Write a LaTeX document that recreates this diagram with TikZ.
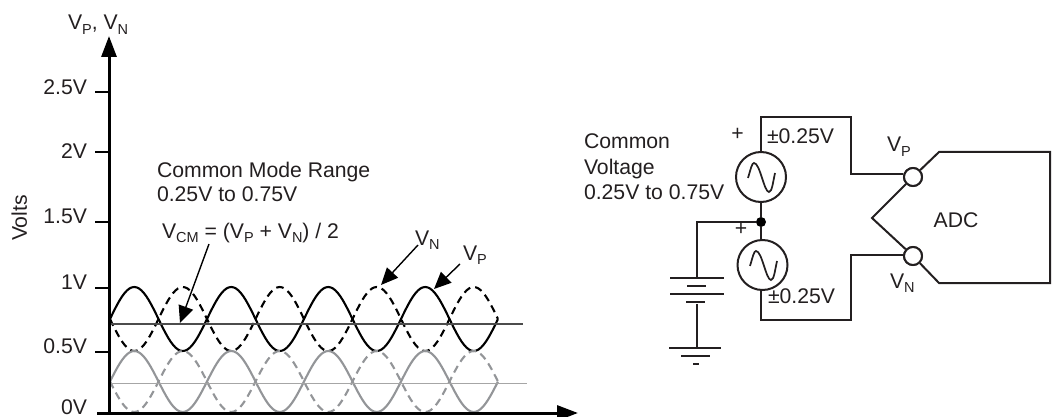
\documentclass[tikz,border=0pt]{standalone}
\usepackage{fontspec}
\setmainfont{Liberation Sans}
\usetikzlibrary{arrows.meta}
\definecolor{ink}{HTML}{231F20}
\definecolor{wavegrey}{HTML}{939598}
\newcommand{\sbs}[1]{\raisebox{-0.22em}{\fontsize{14.5}{15}\selectfont #1}}
\newcommand{\VP}{V\sbs{P}}
\newcommand{\VN}{V\sbs{N}}
\tikzset{
  txt/.style={anchor=base west,inner sep=0pt,outer sep=0pt,text=ink,font=\fontsize{21.2}{25}\selectfont},
  tick label/.style={anchor=base east,inner sep=0pt,outer sep=0pt,text=ink,font=\fontsize{21.2}{25}\selectfont},
  axisline/.style={line width=3pt,draw=black},
  tickline/.style={line width=2pt,draw=black},
  wire/.style={line width=2pt,draw=ink},
  call/.style={line width=1.4pt,draw=black,-{Triangle[length=17pt,width=15pt]}},
  wave/.style={line width=2.1pt},
  dashwave/.style={line width=2.1pt,dash pattern=on 7.5pt off 5pt},
  source/.style={circle,draw=ink,line width=2pt,minimum size=50pt,inner sep=0pt,fill=white},
  port/.style={circle,draw=ink,line width=2pt,minimum size=18pt,inner sep=0pt,fill=white},
  junction/.style={circle,fill=black,minimum size=10pt,inner sep=0pt},
  midline/.style={line width=1.3pt},
}
\begin{document}
\begin{tikzpicture}[x=1pt,y=-1pt]
\useasboundingbox (0,0) rectangle (1052,417);
\coordinate (yBase) at (109,414);
\coordinate (yTip) at (109,36);
\coordinate (xBase) at (97,413);
\coordinate (xTip) at (578,413);
\foreach \c/\m/\a in {black/319/32,wavegrey/381.5/30.5}{
  \draw[wave,draw=\c,domain=0:8,samples=161] plot ({110+\x*48.5},{\m-\a*sin(\x*180)});
  \draw[dashwave,draw=\c,domain=0:8,samples=161] plot ({110+\x*48.5},{\m+\a*sin(\x*180)});
}
\coordinate (mA1) at (110,324); \coordinate (mA2) at (523,324);
\coordinate (mB1) at (110,383.5); \coordinate (mB2) at (527,383.5);
\draw[midline,draw=black!70] (mA1) -- (mA2);
\draw[midline,draw=black!35] (mB1) -- (mB2);
\draw[axisline,-{Triangle[length=21pt,width=15pt]}] (yBase) -- (yTip);
\draw[axisline,-{Triangle[length=21pt,width=15pt]}] (xBase) -- (xTip);
\foreach \n/\y/\l in {a/92/2.5V,b/152.5/2V,c/222/1.5V,d/288/1V,e/352/0.5V}{
  \coordinate (t\n) at (95,\y); \coordinate (u\n) at (109,\y);
  \draw[tickline] (t\n) -- (u\n);
}
\node[tick label] (l25) at (87,95) {2.5V};
\node[tick label] (l20) at (87,158) {2V};
\node[tick label] (l15) at (87,223) {1.5V};
\node[tick label] (l10) at (87,289) {1V};
\node[tick label] (l05) at (87,353) {0.5V};
\node[tick label] (l00) at (87,414.5) {0V};
\node[txt] (ylab) at (68,30) {\VP, \VN};
\node[txt,anchor=base,rotate=90] (volts) at (27,218) {Volts};
\node[txt] (cmr1) at (157,177) {Common Mode Range};
\node[txt] (cmr2) at (157,201) {0.25V to 0.75V};
\node[txt] (vcm) at (162,238) {V\sbs{CM} = (\VP{} + \VN) / 2};
\node[txt] (vnl) at (415,245) {\VN};
\node[txt] (vpl) at (463,260) {\VP};
\coordinate (vcmS) at (209,244); \coordinate (vcmE) at (180,323);
\coordinate (vnS) at (418,245); \coordinate (vnE) at (381,285);
\coordinate (vpS) at (460,264); \coordinate (vpE) at (434,289);
\draw[call] (vcmS) -- (vcmE);
\draw[call] (vnS) -- (vnE);
\draw[call] (vpS) -- (vpE);
\node[source] (s1) at (761,177) {};
\node[source] (s2) at (762.5,265) {};
\node[junction] (j) at (761,222) {};
\node[port] (pp) at (913,177) {};
\node[port] (pn) at (913,256) {};
\coordinate (c1) at (761,117); \coordinate (c2) at (851,117); \coordinate (c3) at (851,174);
\draw[wire] (s1.north) -- (c1) -- (c2) -- (c3) -- (pp.west |- c3);
\coordinate (d1) at (761,320); \coordinate (d2) at (851,320); \coordinate (d3) at (851,255);
\draw[wire] (s2.south -| d1) -- (d1) -- (d2) -- (d3) -- (pn.west |- d3);
\draw[wire] (s1.south) -- (j);
\draw[wire] (j) -- (s2.north -| j);
\coordinate (adc1) at (939,152); \coordinate (adc2) at (1050,152);
\coordinate (adc3) at (1050,283); \coordinate (adc4) at (939,283);
\coordinate (adc5) at (872,218);
\draw[wire,line join=miter] (pp) -- (adc1) -- (adc2) -- (adc3) -- (adc4) -- (pn);
\draw[wire,line join=miter] (pp) -- (adc5) -- (pn);
\node[port] at (pp) {};
\node[port] at (pn) {};
\draw[wire,line width=1.7pt] (748,178) .. controls (751,168) and (752,163) .. (754,163)
   .. controls (760,163) and (764,192) .. (769,192) .. controls (772,192) and (773,182) .. (775,173);
\draw[wire,line width=1.7pt] (750,266) .. controls (753,256) and (754,251) .. (756,251)
   .. controls (762,251) and (766,280) .. (771,280) .. controls (774,280) and (775,270) .. (777,261);
\coordinate (b0) at (697,222); \coordinate (b1) at (697,278);
\draw[wire] (j) -- (b0) -- (b1);
\coordinate (p1a) at (670,278); \coordinate (p1b) at (724,278);
\coordinate (p2a) at (687,286); \coordinate (p2b) at (706,286);
\coordinate (p3a) at (670,294); \coordinate (p3b) at (724,294);
\coordinate (p4a) at (686,302); \coordinate (p4b) at (705,302);
\draw[wire] (p1a) -- (p1b);
\draw[wire] (p2a) -- (p2b);
\draw[wire] (p3a) -- (p3b);
\draw[wire,line width=2.4pt] (p4a) -- (p4b);
\coordinate (g0) at (696.5,304); \coordinate (g1) at (696.5,348);
\draw[wire] (g0) -- (g1);
\coordinate (g1a) at (669,348); \coordinate (g1b) at (721,348);
\coordinate (g2a) at (681,356); \coordinate (g2b) at (710,356);
\coordinate (g3a) at (693,364); \coordinate (g3b) at (699,364);
\draw[wire] (g1a) -- (g1b);
\draw[wire] (g2a) -- (g2b);
\draw[wire] (g3a) -- (g3b);
\node[txt] (cv1) at (584,149) {Common};
\node[txt] (cv2) at (584,174) {Voltage};
\node[txt] (cv3) at (584,199) {0.25V to 0.75V};
\node[txt,anchor=base] (plus1) at (737.5,140) {+};
\node[txt,anchor=base] (plus2) at (741,235) {+};
\node[txt] (amp1) at (767,144) {±0.25V};
\node[txt] (amp2) at (768,303) {±0.25V};
\node[txt] (cvp) at (887,152) {\VP};
\node[txt] (cvn) at (890,288) {\VN};
\node[txt,anchor=base] (adc) at (956,227) {ADC};
\end{tikzpicture}
\end{document}
